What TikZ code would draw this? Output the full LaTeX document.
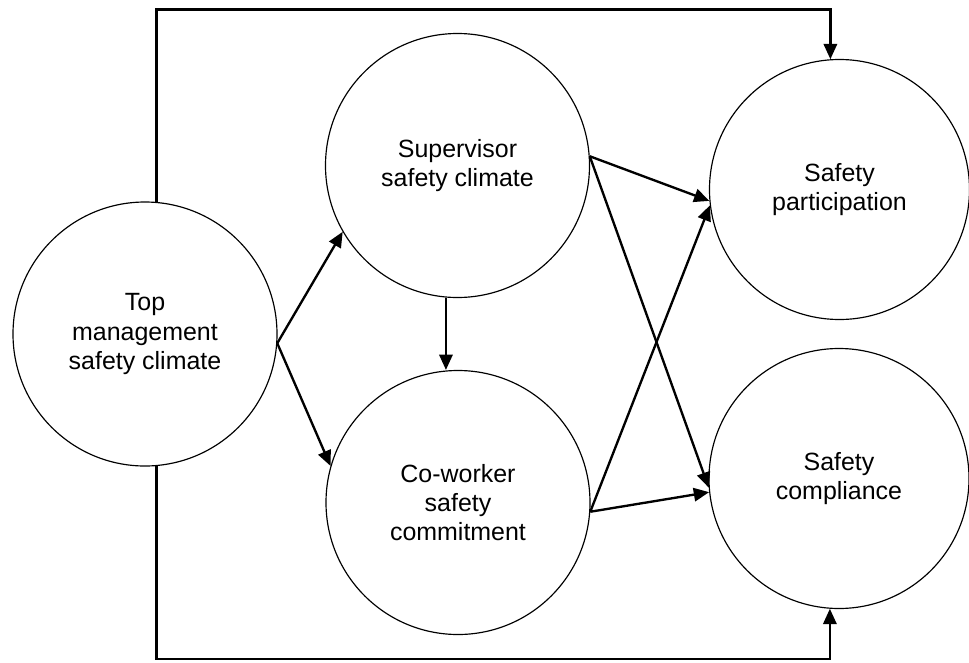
\documentclass[tikz,border=0pt]{standalone}
\usepackage{fontspec}
\setmainfont{Liberation Sans}
\usetikzlibrary{arrows.meta,positioning}

\begin{document}
\begin{tikzpicture}[x=0.3mm, y=-0.3mm, >={Triangle[length=4.6mm,width=4mm]}]
		\useasboundingbox (0,0) rectangle (969,663);
		\begin{scope}[every node/.style={circle,draw,line width=1pt,minimum size=79.2mm,inner sep=0pt,align=center,font=\fontsize{21.3}{25}\selectfont}]
			\node (tm) at (145,334) {Top\\management\\safety climate};
			\node (sup) at (457.5,165.5) {Supervisor\\safety climate};
			\node (cow) at (458,502.5) {Co-worker\\safety\\commitment};
			\node[minimum size=78mm] (part) at (839.5,189.5) {Safety\\participation};
			\node[minimum size=78mm] (comp) at (839,478.5) {Safety\\compliance};
		\end{scope}
		\coordinate (topy) at (0,9.5);
		\coordinate (boty) at (0,659);
		\begin{scope}[every path/.style={line width=2pt,->}]
			\path (tm.-4)
			edge (sup.210)
			edge (cow.164);
			\path (sup.265)
			edge (sup.265 |- cow.north);
			\path (sup.4)
			edge (part.185)
			edge (comp.184);
			\path (cow.-4.5)
			edge (part.187)
			edge (comp.186);
			\draw (tm.85) -- (tm.85 |- topy) -| (part.94);
			\draw (tm.275) -- (tm.275 |- boty) -| (comp.266);
		\end{scope}
	\end{tikzpicture}
\end{document}
